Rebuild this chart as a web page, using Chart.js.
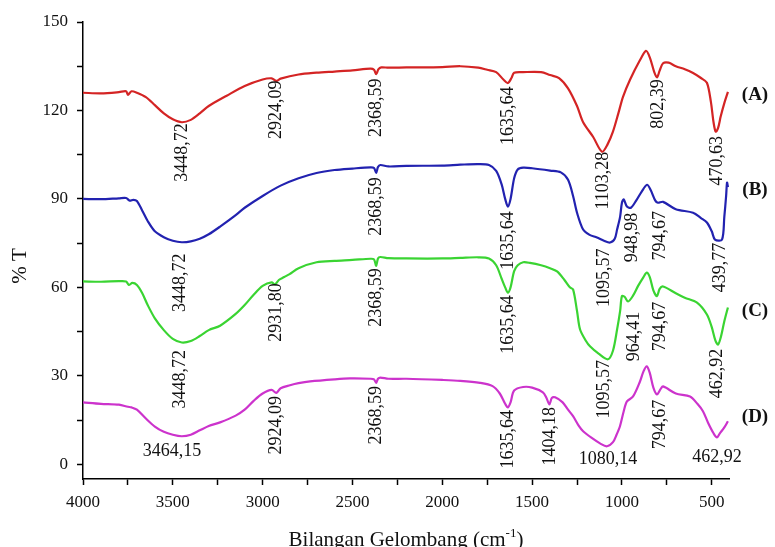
<!DOCTYPE html>
<html>
<head>
<meta charset="utf-8">
<script src="https://cdn.jsdelivr.net/npm/chart.js@4.4.1/dist/chart.umd.min.js"></script>
<style>
  html, body { margin: 0; padding: 0; background: #fff; }
  canvas { display: block; }
</style>
</head>
<body>
<canvas id="ftir" width="775" height="547"></canvas>
<script>
// FTIR spectra (wavenumber cm-1, %T)
const waveA = [4000, 3900, 3800, 3760, 3750, 3730, 3700, 3650, 3600, 3550, 3500, 3450, 3400, 3350, 3300, 3200, 3100, 3000, 2950, 2924, 2900, 2800, 2700, 2600, 2500, 2400, 2380, 2368, 2355, 2340, 2300, 2200, 2000, 1900, 1800, 1750, 1700, 1660, 1635, 1615, 1600, 1550, 1450, 1400, 1350, 1300, 1250, 1216, 1160, 1111, 1080, 1050, 1020, 994, 955, 900, 866, 845, 820, 805, 790, 771, 740, 700, 650, 604, 560, 527, 505, 490, 478, 465, 450, 430, 410];
const tA = [126, 125.8, 126.2, 126.5, 125.3, 126.5, 126, 124.5, 121.8, 119, 117, 116, 116.8, 119, 121.5, 125, 128.3, 130.5, 130.9, 130, 130.8, 132.2, 132.8, 133.2, 133.6, 134.2, 133.8, 132.3, 134, 134.6, 134.5, 134.6, 134.7, 135, 134.5, 133.8, 133, 130.5, 129.3, 131, 132.8, 133, 133, 132, 131, 127.5, 121.5, 116, 111, 106, 108.5, 112.8, 119, 124.6, 130.4, 137, 140.2, 138, 133, 131.2, 133.5, 136, 136.2, 135, 134, 132.7, 131, 129.4, 123, 116, 112.8, 114, 118, 122.5, 126.3];

const waveB = [4000, 3900, 3800, 3760, 3740, 3720, 3700, 3670, 3640, 3600, 3550, 3500, 3450, 3400, 3350, 3300, 3237, 3150, 3100, 3000, 2900, 2800, 2700, 2600, 2500, 2400, 2380, 2368, 2358, 2345, 2300, 2200, 2000, 1900, 1800, 1740, 1700, 1670, 1650, 1635, 1620, 1600, 1580, 1550, 1500, 1400, 1340, 1300, 1272, 1250, 1216, 1180, 1139, 1100, 1066, 1040, 1027, 1010, 1000, 990, 972, 950, 920, 890, 860, 840, 815, 800, 771, 700, 604, 560, 527, 500, 482, 443, 430, 420, 415, 410];
const tB = [90, 89.9, 90.2, 90.3, 89.4, 89.7, 89.3, 86, 82.5, 79, 77, 75.8, 75.3, 75.6, 76.5, 78, 80.6, 84.5, 87, 91, 94.5, 97, 98.8, 99.8, 100.3, 100.7, 100.5, 98.8, 100.8, 101.5, 101, 101.2, 101.3, 101.6, 101.8, 101.5, 99.5, 95, 90, 87.4, 90, 97, 100, 100.6, 100.4, 99.6, 99, 96.5, 91, 85.3, 79.6, 77.8, 76.9, 75.8, 75.2, 76.5, 79.6, 84, 88.7, 89.8, 87.4, 87, 89.5, 92.5, 94.8, 93, 89.5, 88.7, 89, 86.5, 85.3, 83.5, 82, 79, 76.2, 76.2, 84, 91, 95.5, 94];

const waveC = [4000, 3900, 3800, 3760, 3745, 3725, 3700, 3670, 3640, 3600, 3550, 3500, 3450, 3400, 3350, 3300, 3237, 3150, 3100, 3050, 3000, 2950, 2931, 2910, 2880, 2850, 2800, 2700, 2600, 2500, 2400, 2380, 2368, 2358, 2345, 2300, 2200, 2000, 1900, 1800, 1740, 1700, 1670, 1650, 1635, 1620, 1600, 1580, 1550, 1512, 1450, 1400, 1361, 1320, 1290, 1272, 1250, 1233, 1200, 1178, 1130, 1078, 1050, 1027, 1010, 1000, 985, 966, 940, 910, 880, 862, 845, 825, 805, 790, 771, 700, 650, 582, 527, 500, 480, 465, 450, 430, 410];
const tC = [62, 61.9, 62.1, 62, 60.8, 61.5, 60.8, 58, 54, 49.5, 45.5, 42.5, 41.3, 41.8, 43.5, 45.5, 47, 51, 54, 57.5, 60.5, 61.7, 61, 62.5, 63.5, 64.5, 66.5, 68.5, 69, 69.3, 69.7, 69.5, 67.3, 69.8, 70.3, 69.9, 69.8, 69.8, 70, 70.2, 69.8, 67.5, 63, 60, 58.2, 60, 65.5, 67.5, 68.5, 68.3, 67.5, 66.5, 65.4, 62.5, 60, 59.3, 52, 45.7, 41.8, 40, 37.5, 35.6, 38.5, 45.7, 52, 57, 56.8, 55.2, 57, 60.5, 63.5, 65, 63.5, 59, 57, 59.5, 60.3, 58, 56.5, 54.8, 50.8, 46.5, 42, 40.6, 43, 48.5, 53.2];

const waveD = [4000, 3900, 3800, 3750, 3730, 3700, 3650, 3600, 3550, 3500, 3450, 3400, 3350, 3300, 3237, 3150, 3100, 3050, 3000, 2950, 2924, 2900, 2848, 2800, 2736, 2600, 2514, 2400, 2380, 2368, 2358, 2345, 2300, 2200, 2000, 1900, 1790, 1720, 1680, 1650, 1635, 1620, 1600, 1550, 1500, 1440, 1420, 1404, 1390, 1372, 1330, 1300, 1272, 1240, 1216, 1170, 1120, 1083, 1050, 1030, 1011, 990, 972, 938, 900, 880, 862, 845, 825, 805, 785, 771, 700, 621, 580, 549, 520, 490, 471, 455, 430, 410];
const tD = [21, 20.5, 20.2, 19.5, 19.3, 18.5, 15.5, 12.8, 11, 10, 9.5, 10, 11.5, 13, 14.2, 16.5, 18.5, 21.5, 24, 25.2, 24.2, 25.8, 26.8, 27.5, 28.1, 28.8, 29.1, 29, 28.8, 27.6, 29, 29.4, 29, 29, 28.6, 28.3, 27.6, 26.5, 24, 20.5, 19.3, 21, 25, 26.2, 26, 24.4, 22.5, 20.3, 22.5, 22.7, 21, 18.5, 16.3, 13, 11.2, 9, 7, 6.1, 7.5, 10, 12.9, 18, 21.3, 23, 28, 31.5, 33.2, 31, 26, 23.7, 25.5, 26.4, 24, 23, 20.5, 18, 14, 10.5, 9.1, 10.5, 12.5, 14.6];

const sampleNames = ['(A)', '(B)', '(C)', '(D)'];
const sampleNameT = [125.3, 93.1, 51.8, 15.9];
const seriesColors = ['#d42424', '#2222b0', '#3ad432', '#cc33cc'];

const xMajor = [4000, 3500, 3000, 2500, 2000, 1500, 1000, 500];
const xMinor = [3750, 3250, 2750, 2250, 1750, 1250, 750];
const yMajor = [0, 30, 60, 90, 120, 150];
const yMinor = [15, 45, 75, 105, 135];

// peak labels: text, wavenumber, %T at label centre, horizontal?
const peakLabels = [
  ['3448,72', 3450, 105.7, false], ['2924,09', 2924, 120.2, false], ['2368,59', 2368, 120.9, false],
  ['1635,64', 1635, 118.2, false], ['1103,28', 1103, 96.2, false], ['802,39', 800, 122.2, false],
  ['470,63', 470, 102.9, false],
  ['3448,72', 3460, 61.6, false], ['2368,59', 2368, 87.4, false], ['1635,64', 1635, 75.9, false],
  ['1095,57', 1100, 63.3, false], ['948,98', 940, 76.9, false], ['794,67', 785, 77.5, false],
  ['439,77', 450, 66.7, false],
  ['3448,72', 3460, 28.8, false], ['2931,80', 2924, 51.5, false], ['2368,59', 2368, 56.6, false],
  ['1635,64', 1635, 47.4, false], ['1095,57', 1100, 25.4, false], ['964,41', 930, 43.3, false],
  ['794,67', 785, 46.7, false], ['462,92', 470, 30.8, false],
  ['3464,15', 3505, 4.4, true], ['2924,09', 2924, 13.2, false], ['2368,59', 2368, 16.6, false],
  ['1635,64', 1635, 8.5, false], ['1404,18', 1400, 9.5, false], ['1080,14', 1077, 1.7, true],
  ['794,67', 785, 13.5, false], ['462,92', 471, 2.4, true]
];

const toPoints = (w, t) => w.map((v, i) => ({ x: v, y: t[i] }));

const textPlugin = {
  id: 'ftirText',
  afterDatasetsDraw(chart) {
    const { ctx, chartArea } = chart;
    const x = chart.scales.x, y = chart.scales.y;
    ctx.save();
    ctx.fillStyle = '#111';
    ctx.textAlign = 'center';
    ctx.textBaseline = 'middle';
    ctx.font = '18px "Liberation Serif"';
    peakLabels.forEach(([text, wn, t, flat]) => {
      ctx.save();
      ctx.translate(x.getPixelForValue(wn), y.getPixelForValue(t));
      if (!flat) ctx.rotate(-Math.PI / 2);
      ctx.fillText(text, 0, 0);
      ctx.restore();
    });

    ctx.font = 'bold 19px "Liberation Serif"';
    sampleNames.forEach((name, i) => {
      ctx.fillText(name, chartArea.right + 26, y.getPixelForValue(sampleNameT[i]));
    });

    // y title
    ctx.font = '21px "Liberation Serif"';
    ctx.save();
    ctx.translate(20, 266);
    ctx.rotate(-Math.PI / 2);
    ctx.fillText('% T', 0, 0);
    ctx.restore();

    // x title with superscript
    const main = 'Bilangan Gelombang (cm', sup = '-1', tail = ')';
    ctx.textAlign = 'left';
    ctx.textBaseline = 'alphabetic';
    ctx.font = '21px "Liberation Serif"';
    const wMain = ctx.measureText(main).width, wTail = ctx.measureText(tail).width;
    ctx.font = '13px "Liberation Serif"';
    const wSup = ctx.measureText(sup).width;
    let cx = (chartArea.left + chartArea.right) / 2 - (wMain + wSup + wTail) / 2;
    const base = 546;
    ctx.font = '21px "Liberation Serif"';
    ctx.fillText(main, cx, base);
    cx += wMain;
    ctx.font = '13px "Liberation Serif"';
    ctx.fillText(sup, cx, base - 9);
    cx += wSup;
    ctx.font = '21px "Liberation Serif"';
    ctx.fillText(tail, cx, base);
    ctx.restore();
  }
};

Chart.defaults.font.family = '"Liberation Serif", "Times New Roman", serif';

new Chart(document.getElementById('ftir'), {
  type: 'line',
  data: {
    datasets: [
      { label: 'A', data: toPoints(waveA, tA) },
      { label: 'B', data: toPoints(waveB, tB) },
      { label: 'C', data: toPoints(waveC, tC) },
      { label: 'D', data: toPoints(waveD, tD) }
    ].map((d, i) => ({
      ...d,
      borderColor: seriesColors[i],
      borderWidth: 2.2,
      pointRadius: 0,
      tension: 0.3,
      fill: false
    }))
  },
  options: {
    responsive: false,
    animation: false,
    layout: { padding: { top: 22, right: 46, bottom: 0, left: 0 } },
    plugins: { legend: { display: false }, tooltip: { enabled: false } },
    scales: {
      x: {
        type: 'linear',
        reverse: true,
        min: 404,
        max: 4000,
        afterBuildTicks: (s) => { s.ticks = [...xMajor, ...xMinor].sort((a, b) => b - a).map(v => ({ value: v })); },
        afterFit: (s) => { s.height = 68; },
        border: { color: '#000', width: 1.5 },
        grid: { drawOnChartArea: false, tickLength: 6, tickColor: '#000', tickWidth: 1.5 },
        ticks: {
          autoSkip: false, maxRotation: 0, padding: 7, color: '#111',
          font: { size: 17 },
          callback: (v) => xMajor.includes(v) ? String(v) : ''
        }
      },
      y: {
        min: -5,
        max: 150,
        afterBuildTicks: (s) => { s.ticks = [...yMajor, ...yMinor].sort((a, b) => a - b).map(v => ({ value: v })); },
        afterFit: (s) => { s.width = 83; },
        border: { color: '#000', width: 1.5 },
        grid: { drawOnChartArea: false, tickLength: 6, tickColor: '#000', tickWidth: 1.5 },
        ticks: {
          autoSkip: false, padding: 9, color: '#111',
          font: { size: 17 },
          callback: (v) => yMajor.includes(v) ? String(v) : ''
        }
      }
    }
  },
  plugins: [textPlugin]
});
</script>
</body>
</html>
